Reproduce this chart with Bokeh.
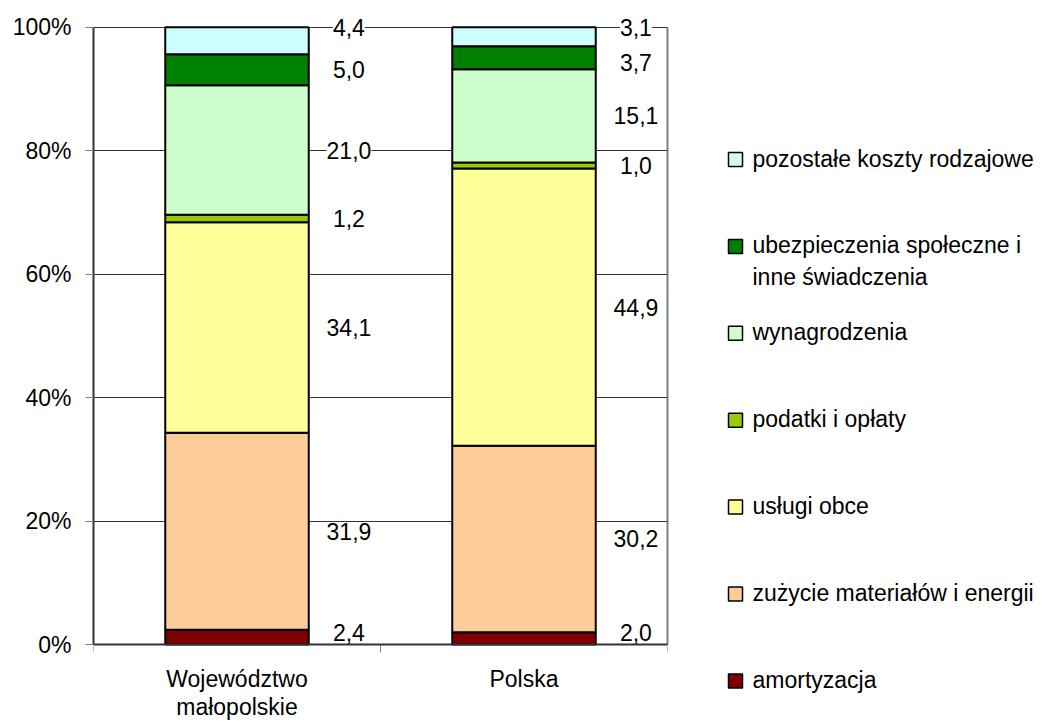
from bokeh.plotting import figure
from bokeh.models import (Range1d, LinearAxis, FixedTicker, PrintfTickFormatter,
                          ColumnDataSource, LabelSet, Span)
from bokeh.layouts import row
from bokeh.embed import file_html
from bokeh.resources import INLINE
from bokeh.core.properties import value

# ---------------- data ----------------
categories = ["Województwo małopolskie", "Polska"]
category_labels = ["Województwo\nmałopolskie", "Polska"]
series = ["amortyzacja", "zużycie materiałów i energii", "usługi obce",
          "podatki i opłaty", "wynagrodzenia",
          "ubezpieczenia społeczne i inne świadczenia",
          "pozostałe koszty rodzajowe"]
legend_labels = ["amortyzacja", "zużycie materiałów i energii", "usługi obce",
                 "podatki i opłaty", "wynagrodzenia",
                 "ubezpieczenia społeczne i\ninne świadczenia",
                 "pozostałe koszty rodzajowe"]
colors = ["#800000", "#FFCC99", "#FFFF99", "#99CC00", "#CCFFCC", "#008000", "#CCFFFF"]
woj_values = [2.4, 31.9, 34.1, 1.2, 21.0, 5.0, 4.4]
pol_values = [2.0, 30.2, 44.9, 1.0, 15.1, 3.7, 3.1]
y_ticks = [0, 20, 40, 60, 80, 100]

FONT = "Liberation Sans"
FS = "23px"
LABEL_GAP = 5.8     # minimal spacing between value labels (in % units)
LABEL_FLOOR = 2.0   # lowest label position (in % units)
Y_MAX = 100
Y_HEADROOM = 4      # room above 100% so top labels are not clipped

values_by_cat = [woj_values, pol_values]
xs = [i + 0.5 for i in range(len(categories))]

MW, H = 690, 722
BT = 2              # top border (px)
AXIS_BAND = 78      # pixels below the 0% line used for category labels
PPU = (H - BT - AXIS_BAND) / (Y_MAX + Y_HEADROOM)   # pixels per % unit
Y_START = -AXIS_BAND / PPU

p = figure(width=MW, height=H, x_range=Range1d(0, len(categories)),
           y_range=Range1d(Y_START, Y_MAX + Y_HEADROOM), output_backend="svg",
           toolbar_location=None, x_axis_location=None,
           min_border_left=93, min_border_right=23, min_border_top=BT,
           min_border_bottom=0)
p.outline_line_color = None
p.background_fill_color = "white"

# bars
bottoms = [0.0 for _ in categories]
mids = [[] for _ in categories]
for j, name in enumerate(series):
    vals = [values_by_cat[i][j] for i in range(len(categories))]
    tops = [b + v for b, v in zip(bottoms, vals)]
    src = ColumnDataSource(dict(x=xs, bottom=bottoms, top=tops))
    p.vbar(x="x", bottom="bottom", top="top", width=0.5, source=src,
           fill_color=colors[j], line_color="black", line_width=2)
    for i in range(len(categories)):
        mids[i].append((bottoms[i] + tops[i]) / 2)
    bottoms = tops

# category axis (line at 0 %, boundary ticks, labels)
p.add_layout(Span(location=0, dimension="width", line_color="#333333", line_width=2))
bounds_x = list(range(len(categories) + 1))
p.segment(x0=bounds_x, x1=bounds_x, y0=[0] * len(bounds_x),
          y1=[-8 / PPU] * len(bounds_x), line_color="#808080", line_width=1)
p.text(x=xs, y=[-21 / PPU] * len(xs), text=category_labels, text_align="center",
       text_baseline="top", text_font=value(FONT), text_font_size=FS,
       text_color="black", text_line_height=1.1)

# value labels: segment midpoints, top label at bar top, pushed apart
lab_x, lab_y, lab_t = [], [], []
for i in range(len(categories)):
    pos = list(mids[i])
    pos[0] = max(pos[0], LABEL_FLOOR)
    for k in range(1, len(pos)):
        pos[k] = max(pos[k], pos[k - 1] + LABEL_GAP)
    pos[-1] = bottoms[i]
    for k in range(len(pos) - 2, -1, -1):
        pos[k] = min(pos[k], pos[k + 1] - LABEL_GAP)
    for k, v in enumerate(values_by_cat[i]):
        lab_x.append(xs[i] + 0.39)
        lab_y.append(pos[k])
        lab_t.append(f"{v:.1f}".replace(".", ","))

lsrc = ColumnDataSource(dict(x=lab_x, y=lab_y, t=lab_t))
labels = LabelSet(x="x", y="y", text="t", source=lsrc, text_align="center",
                  text_baseline="middle", text_font=value(FONT), text_font_size=FS,
                  text_color="black", background_fill_color="white")
p.add_layout(labels)

# value axis
p.yaxis.ticker = FixedTicker(ticks=y_ticks)
p.yaxis.bounds = (0, Y_MAX)
p.yaxis.formatter = PrintfTickFormatter(format="%d%%")
p.yaxis.axis_line_width = 2
p.yaxis.axis_line_color = "#333333"
p.yaxis.major_tick_out = 8
p.yaxis.major_tick_in = 0
p.yaxis.major_tick_line_color = "#808080"
p.yaxis.minor_tick_line_color = None
p.yaxis.major_label_standoff = 14
p.yaxis.major_label_text_font = FONT
p.yaxis.major_label_text_font_size = FS
p.yaxis.major_label_text_color = "black"

p.ygrid.ticker = FixedTicker(ticks=y_ticks)
p.ygrid.grid_line_color = "#333333"
p.ygrid.grid_line_width = 1
p.xgrid.grid_line_color = None

raxis = LinearAxis(ticker=FixedTicker(ticks=[], minor_ticks=y_ticks),
                   bounds=(0, Y_MAX),
                   axis_line_color="#808080", axis_line_width=2,
                   major_tick_line_color=None, minor_tick_in=5, minor_tick_out=0,
                   minor_tick_line_color="#333333", major_label_standoff=0)
p.add_layout(raxis, "right")

# legend panel (its y range is in page pixels)
LW = 1050 - MW
leg = figure(width=LW, height=H, x_range=Range1d(0, LW),
             y_range=Range1d(H, BT),
             output_backend="svg", toolbar_location=None,
             min_border_left=0, min_border_right=0,
             min_border_top=BT, min_border_bottom=0,
             x_axis_location=None, y_axis_location=None)
leg.outline_line_color = None
leg.grid.grid_line_color = None
order = list(range(len(series)))[::-1]
legend_top, legend_step = 159, 86.9
ly = [legend_top + k * legend_step for k in range(len(order))]
leg.rect(x=[45] * len(order), y=ly, width=14, height=14,
         fill_color=[colors[j] for j in order], line_color="black", line_width=1.5)
leg.text(x=[62] * len(order), y=[v - 14 for v in ly],
         text=[legend_labels[j] for j in order], text_baseline="top",
         text_align="left", text_font=value(FONT), text_font_size=FS,
         text_color="black", text_line_height=1.2)

layout = row(p, leg)
open("out.html", "w").write(file_html(layout, INLINE))
